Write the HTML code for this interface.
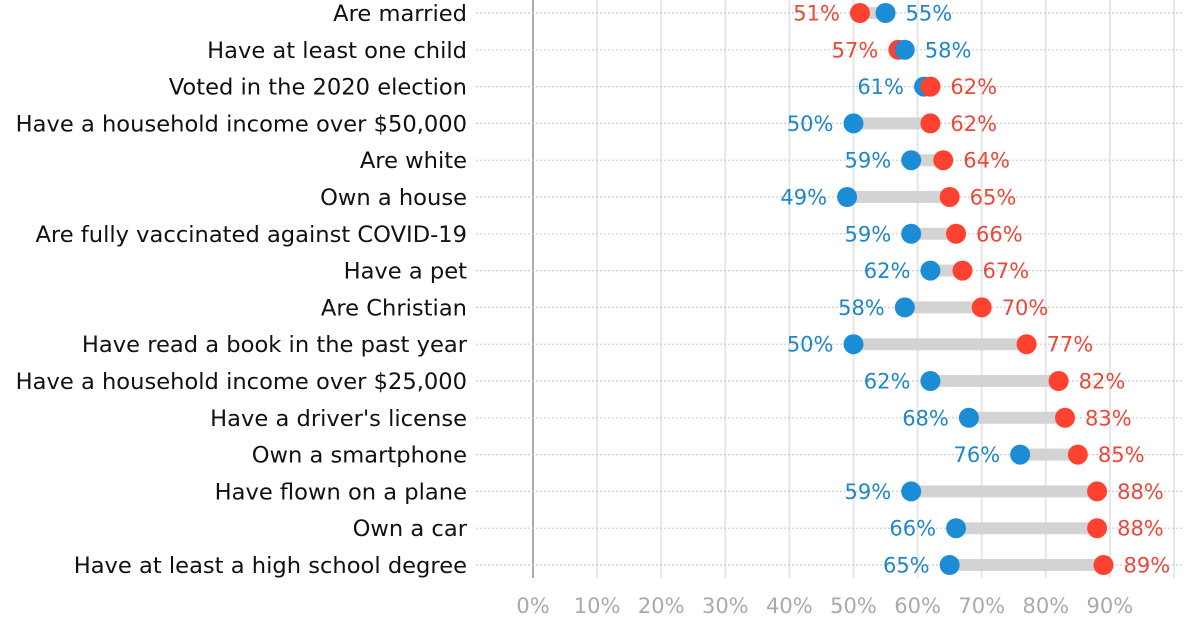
<!DOCTYPE html>
<html><head><meta charset="utf-8"><style>
body{margin:0;background:#fff;}
svg{display:block;font-family:"DejaVu Sans","Liberation Sans",sans-serif;}
</style></head><body>
<svg id="chart" width="1188" height="624" viewBox="0 0 1188 624"></svg>
<script>
const categories=["Are married","Have at least one child","Voted in the 2020 election","Have a household income over $50,000","Are white","Own a house","Are fully vaccinated against COVID-19","Have a pet","Are Christian","Have read a book in the past year","Have a household income over $25,000","Have a driver's license","Own a smartphone","Have flown on a plane","Own a car","Have at least a high school degree"];
const blueValues=[55,58,61,50,59,49,59,62,58,50,62,68,76,59,66,65];
const redValues=[51,57,62,62,64,65,66,67,70,77,82,83,85,88,88,89];
const ticks=[0,10,20,30,40,50,60,70,80,90];
const NS="http://www.w3.org/2000/svg";
const svg=document.getElementById('chart');
const x=v=>533+v*6.41;
const y=i=>13+i*36.8;
function mk(t,a,txt){const e=document.createElementNS(NS,t);for(const k in a)e.setAttribute(k,a[k]);if(txt!=null)e.textContent=txt;svg.appendChild(e);return e;}
[0,10,20,30,40,50,60,70,80,90,100].forEach(v=>{
 const l=mk('line',{x1:x(v),x2:x(v),y1:0,y2:578,stroke:v===0?'#aaa':'#e6e6e6','stroke-width':2});
 
 
});
ticks.forEach(v=>{
 const t=mk('text',{x:x(v),y:613,'text-anchor':'middle','font-size':21,fill:'#aaa'},v+'%');
 
 
});
categories.forEach((c,i)=>{
 const yy=y(i);
 const d=mk('line',{x1:476,x2:1182,y1:yy,y2:yy,stroke:'#ccc','stroke-width':1.2,'stroke-dasharray':'2,2'});
 
 
 const lb=mk('text',{x:467,y:yy+8,'text-anchor':'end','font-size':22.6,fill:'#111'},c);
 
 
 const b=blueValues[i],r=redValues[i];
 const bar=mk('line',{x1:x(Math.min(b,r)),x2:x(Math.max(b,r)),y1:yy,y2:yy,stroke:'#d3d3d3','stroke-width':12});
 
 
 const pts=[{v:b,c:'#1a8dd6',tc:'#1f86c8',n:'blue'},{v:r,c:'#ff4230',tc:'#e8493a',n:'red'}];
 pts.sort((p,q)=>p.v-q.v);
 pts.forEach((p,k)=>{
  const dot=mk('circle',{cx:x(p.v),cy:yy,r:10,fill:p.c});
  
  
  const hi=(k===1);
  const tx=mk('text',{x:hi?x(p.v)+20:x(p.v)-20,y:yy+7.5,'text-anchor':hi?'start':'end','font-size':21,fill:p.tc},p.v+'%');
  
  
 });
});
</script>
</body></html>
